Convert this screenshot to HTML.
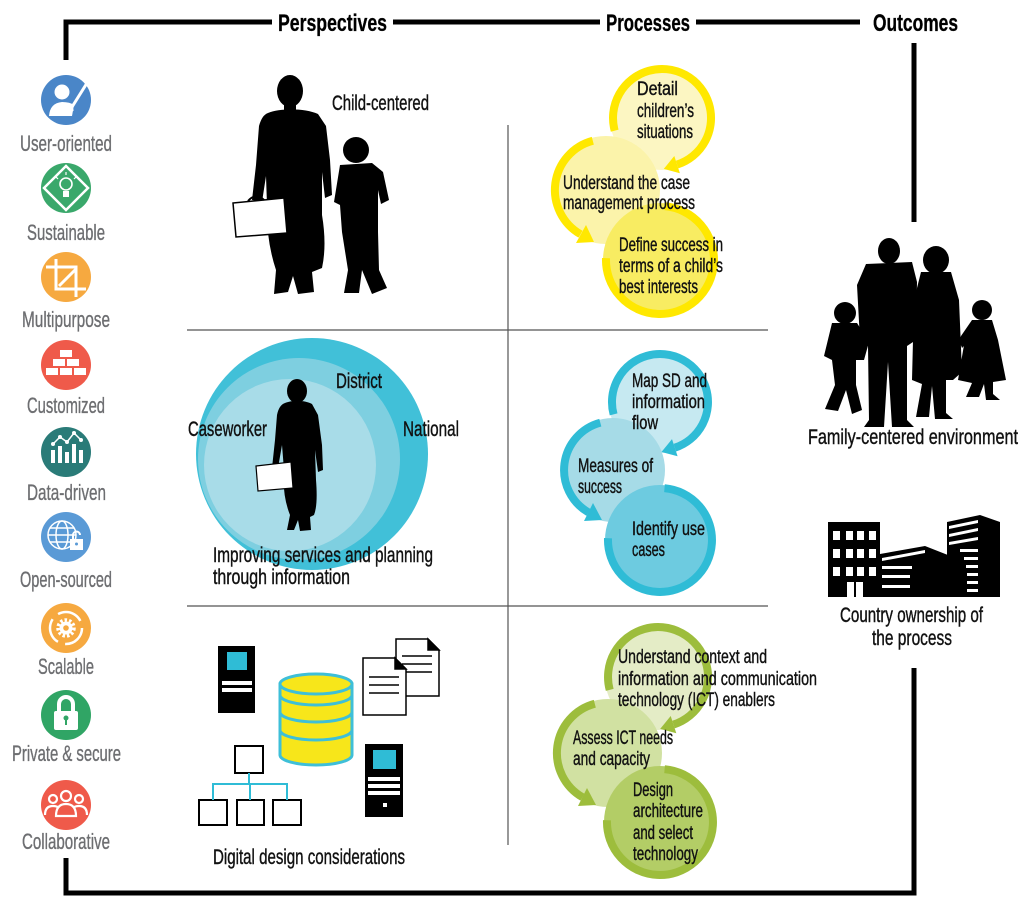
<!DOCTYPE html>
<html><head><meta charset="utf-8"><style>
html,body{margin:0;padding:0;background:#fff;}
svg{display:block;}
text{font-family:"Liberation Sans Narrow","Liberation Sans",sans-serif;}
.h{font-size:24px;font-weight:bold;fill:#000;stroke:#000;stroke-width:0.3;}
.l{font-size:22px;fill:#6d6e71;stroke:#6d6e71;stroke-width:0.35;}
.t{font-size:19px;fill:#111;stroke:#111;stroke-width:0.4;}
.p{font-size:21px;fill:#111;stroke:#111;stroke-width:0.4;}
</style></head><body>
<svg width="1024" height="907" viewBox="0 0 1024 907" xmlns="http://www.w3.org/2000/svg">
<rect width="1024" height="907" fill="#fff"/>

<!-- Frame -->
<g stroke="#000" stroke-width="5" fill="none">
<path d="M66 60 V22 H272"/>
<path d="M393 22 H600"/>
<path d="M696 22 H860"/>
<path d="M914 43 V222"/>
<path d="M914 668 V893 H66 V858"/>
</g>
<text class="h" x="278" y="31" textLength="109" lengthAdjust="spacingAndGlyphs">Perspectives</text>
<text class="h" x="606" y="31" textLength="84" lengthAdjust="spacingAndGlyphs">Processes</text>
<text class="h" x="873" y="31" textLength="85" lengthAdjust="spacingAndGlyphs">Outcomes</text>

<!-- Grid -->
<g stroke="#555" stroke-width="1.2">
<line x1="508" y1="125" x2="508" y2="845"/>
<line x1="187" y1="330" x2="768" y2="330"/>
<line x1="187" y1="606" x2="768" y2="606"/>
</g>

<!-- Left icons -->
<circle cx="66" cy="100" r="25" fill="#4a86c8"/>
<circle cx="62" cy="92" r="7.5" fill="#fff"/>
<path d="M49 116 Q50 103 62 102 Q70 102 74 105 L72 116 Z" fill="#fff"/>
<path d="M87 83 L72 107" stroke="#fff" stroke-width="3"/>
<path d="M68 106 L74 110 L68 116 Z" fill="#fff"/>

<circle cx="66" cy="188" r="25" fill="#3aa86b"/>
<polygon points="66,166 88,188 66,210 44,188" fill="none" stroke="#fff" stroke-width="2.5"/>
<circle cx="66" cy="184" r="6" fill="none" stroke="#fff" stroke-width="1.6"/>
<rect x="63" y="191" width="6" height="6" fill="#fff"/>
<g stroke="#fff" stroke-width="1.2"><line x1="66" y1="172" x2="66" y2="175"/><line x1="56" y1="177" x2="58" y2="179"/><line x1="76" y1="177" x2="74" y2="179"/></g>

<circle cx="66" cy="277" r="25" fill="#f6a940"/>
<g stroke="#fff" stroke-width="3" fill="none">
<path d="M56 259 V289 H86"/>
<path d="M46 267 H76 V297"/>
<path d="M59 286 L76 269"/>
</g>

<circle cx="66" cy="365" r="25" fill="#ef5a4a"/>
<g fill="#fff">
<rect x="60" y="350" width="12" height="7"/>
<rect x="53" y="359" width="12" height="7"/><rect x="67" y="359" width="12" height="7"/>
<rect x="46" y="368" width="12" height="7"/><rect x="60" y="368" width="12" height="7"/><rect x="74" y="368" width="12" height="7"/>
</g>

<circle cx="66" cy="452" r="25" fill="#2a7b78"/>
<g fill="#fff">
<rect x="51" y="450" width="4" height="13"/><rect x="58" y="446" width="4" height="17"/><rect x="65" y="452" width="4" height="11"/><rect x="72" y="444" width="4" height="19"/><rect x="79" y="450" width="4" height="13"/>
</g>
<polyline points="53,444 60,437 67,442 74,433 81,440" fill="none" stroke="#fff" stroke-width="1.5"/>
<g fill="#fff"><circle cx="53" cy="444" r="2"/><circle cx="60" cy="437" r="2"/><circle cx="67" cy="442" r="2"/><circle cx="74" cy="433" r="2"/><circle cx="81" cy="440" r="2"/></g>

<circle cx="66" cy="537" r="25" fill="#5a9ad6"/>
<g fill="none" stroke="#fff" stroke-width="1.5">
<circle cx="62" cy="535" r="14"/><ellipse cx="62" cy="535" rx="6" ry="14"/>
<line x1="48" y1="535" x2="76" y2="535"/><line x1="50" y1="528" x2="74" y2="528"/><line x1="50" y1="542" x2="72" y2="542"/>
</g>
<rect x="70" y="539" width="13" height="11" fill="#fff"/>
<path d="M73 539 V535 A3.5 3.5 0 0 1 80 535" fill="none" stroke="#fff" stroke-width="2"/>
<circle cx="76.5" cy="544" r="1.5" fill="#5a9ad6"/>

<circle cx="66" cy="628" r="25" fill="#f6a940"/>
<circle cx="66" cy="628" r="16" fill="none" stroke="#fff" stroke-width="2.5" stroke-dasharray="26 7.5"/>
<circle cx="66" cy="628" r="8" fill="none" stroke="#fff" stroke-width="3.5" stroke-dasharray="2.5 2"/>
<circle cx="66" cy="628" r="6.5" fill="#fff"/>
<circle cx="66" cy="628" r="2.8" fill="#f6a940"/>

<circle cx="66" cy="715" r="25" fill="#30a565"/>
<path d="M59 712 V704 A7 7 0 0 1 73 704 V712" fill="none" stroke="#fff" stroke-width="4"/>
<rect x="54" y="711" width="24" height="19" rx="2" fill="#fff"/>
<circle cx="66" cy="718" r="2.5" fill="#30a565"/><rect x="65" y="719" width="2" height="6" fill="#30a565"/>

<circle cx="66" cy="805" r="25" fill="#ef5a4a"/>
<g fill="none" stroke="#fff" stroke-width="2.2">
<circle cx="66" cy="796" r="5"/><circle cx="53" cy="799" r="4"/><circle cx="79" cy="799" r="4"/>
<path d="M56 816 Q56 804 66 804 Q76 804 76 816 Z"/>
<path d="M45 815 Q45 806 53 806 Q57 806 59 808"/>
<path d="M87 815 Q87 806 79 806 Q75 806 73 808"/>
</g>

<text class="l" x="20" y="151" textLength="92" lengthAdjust="spacingAndGlyphs">User-oriented</text>
<text class="l" x="27" y="240" textLength="78" lengthAdjust="spacingAndGlyphs">Sustainable</text>
<text class="l" x="22" y="327" textLength="88" lengthAdjust="spacingAndGlyphs">Multipurpose</text>
<text class="l" x="27" y="413" textLength="78" lengthAdjust="spacingAndGlyphs">Customized</text>
<text class="l" x="27" y="500" textLength="79" lengthAdjust="spacingAndGlyphs">Data-driven</text>
<text class="l" x="20" y="587" textLength="92" lengthAdjust="spacingAndGlyphs">Open-sourced</text>
<text class="l" x="38" y="674" textLength="56" lengthAdjust="spacingAndGlyphs">Scalable</text>
<text class="l" x="12" y="761" textLength="109" lengthAdjust="spacingAndGlyphs">Private &amp; secure</text>
<text class="l" x="22" y="849" textLength="88" lengthAdjust="spacingAndGlyphs">Collaborative</text>

<!-- Child-centered silhouettes -->
<g fill="#000">
<ellipse cx="290" cy="91" rx="13" ry="16"/>
<rect x="284" y="102" width="12" height="12"/>
<path d="M268 113 C280 108 305 108 318 114 L326 126 L330 160 L332 195 L325 198 L322 172 L322 215 Q327 245 322 268 L312 272 L314 292 L298 294 L293 276 L288 292 L274 294 L276 270 Q266 240 267 205 L266 176 L262 202 L252 200 L256 165 L259 126 Q262 115 268 113 Z"/>
<circle cx="356" cy="150" r="13"/>
<path d="M340 165 L372 163 L383 172 L389 200 L381 204 L378 190 L378 232 L379 270 L387 288 L372 294 L362 270 L359 293 L344 293 L348 270 L342 232 L340 205 L334 202 Z"/>
</g>
<polygon points="233,203 284,198 287,233 236,237" fill="#fff" stroke="#000" stroke-width="1.5"/>
<path d="M248 201 Q256 192 264 200" fill="none" stroke="#000" stroke-width="2"/>
<text class="p" x="332" y="110" textLength="97" lengthAdjust="spacingAndGlyphs">Child-centered</text>

<!-- Caseworker circles -->
<circle cx="312" cy="454" r="116" fill="#41c0d8"/>
<circle cx="299" cy="459" r="101" fill="#7ecfe0"/>
<circle cx="290" cy="465" r="86" fill="#a8dce8"/>
<g fill="#000">
<ellipse cx="297" cy="391" rx="10" ry="12"/>
<path d="M285 403 C292 400 305 400 312 404 L318 415 L322 445 L323 470 L318 472 L315 450 L316 480 Q318 505 314 515 L310 517 L311 530 L300 531 L298 520 L294 530 L287 530 L290 515 Q282 495 284 470 L282 445 L278 468 L272 468 L275 440 L277 415 Q279 405 285 403 Z"/>
</g>
<polygon points="256,466 291,462 293,488 258,491" fill="#fff" stroke="#000" stroke-width="1.2"/>
<text class="p" x="336" y="388" textLength="46" lengthAdjust="spacingAndGlyphs">District</text>
<text class="p" x="188" y="436" textLength="79" lengthAdjust="spacingAndGlyphs">Caseworker</text>
<text class="p" x="403" y="436" textLength="56" lengthAdjust="spacingAndGlyphs">National</text>
<text class="p" x="213" y="562" textLength="220" lengthAdjust="spacingAndGlyphs">Improving services and planning</text>
<text class="p" x="213" y="584" textLength="137" lengthAdjust="spacingAndGlyphs">through information</text>

<!-- Digital design -->
<rect x="218" y="646" width="37" height="67" fill="#000"/>
<rect x="227" y="652" width="20" height="18" fill="#2fbcd6"/>
<rect x="222" y="681" width="30" height="4" fill="#fff"/>
<rect x="222" y="688" width="30" height="4" fill="#fff"/>

<g fill="#f7e61a" stroke="#3ebfd8" stroke-width="3">
<path d="M280 684 V755 A36 10 0 0 0 352 755 V684 Z"/>
<ellipse cx="316" cy="684" rx="36" ry="10"/>
<path d="M280 695 A36 10 0 0 0 352 695" fill="none"/>
<path d="M280 712 A36 10 0 0 0 352 712" fill="none"/>
<path d="M280 730 A36 10 0 0 0 352 730" fill="none"/>
</g>

<g stroke="#000" stroke-width="1.5">
<polygon points="396,639 428,639 439,650 439,696 396,696" fill="#fff"/>
<polygon points="428,639 428,650 439,650" fill="#000"/>
<line x1="402" y1="656" x2="432" y2="656"/><line x1="402" y1="664" x2="432" y2="664"/><line x1="402" y1="672" x2="432" y2="672"/>
<polygon points="363,658 395,658 406,669 406,715 363,715" fill="#fff"/>
<polygon points="395,658 395,669 406,669" fill="#000"/>
<line x1="369" y1="677" x2="399" y2="677"/><line x1="369" y1="685" x2="399" y2="685"/><line x1="369" y1="693" x2="399" y2="693"/>
</g>

<g fill="none" stroke="#000" stroke-width="2">
<rect x="235" y="746" width="28" height="27"/>
<rect x="199" y="800" width="28" height="25"/>
<rect x="237" y="800" width="27" height="25"/>
<rect x="273" y="800" width="28" height="25"/>
</g>
<path d="M249 773 V784 M213 800 V784 H287 V800 M250 784 V800" fill="none" stroke="#2fbcd6" stroke-width="2"/>

<rect x="365" y="744" width="38" height="73" fill="#000"/>
<rect x="373" y="750" width="23" height="19" fill="#2fbcd6"/>
<rect x="368" y="777" width="32" height="4" fill="#fff"/>
<rect x="368" y="784" width="32" height="4" fill="#fff"/>
<rect x="368" y="791" width="32" height="4" fill="#fff"/>
<rect x="383" y="803" width="4" height="4" fill="#fff"/>
<text class="p" x="213" y="864" textLength="192" lengthAdjust="spacingAndGlyphs">Digital design considerations</text>

<!-- Yellow process circles -->
<circle cx="662" cy="118" r="52" fill="#fcf6c2"/>
<circle cx="606" cy="190" r="54" fill="#fbf3aa"/>
<circle cx="660" cy="260" r="57" fill="#f8ec62"/>
<g fill="none" stroke="#ffe800" stroke-width="8">
<path d="M614.7 130.7 A49 49 0 1 1 677.1 164.6"/>
<path d="M592.8 140.7 A51 51 0 0 0 580.5 234.2"/>
<path d="M664.7 206.2 A54 54 0 1 1 606 258.1"/>
</g>
<g fill="#ffe800">
<polygon points="663.8,168.9 679.9,173.2 674.3,156.0"/>
<polygon points="594,242 576,243 586,225"/>
</g>
<text class="t" x="637" y="95" textLength="41" lengthAdjust="spacingAndGlyphs">Detail</text>
<text class="t" x="637" y="117" textLength="57" lengthAdjust="spacingAndGlyphs">children’s</text>
<text class="t" x="637" y="138" textLength="56" lengthAdjust="spacingAndGlyphs">situations</text>
<text class="t" x="563" y="189" textLength="127" lengthAdjust="spacingAndGlyphs">Understand the case</text>
<text class="t" x="563" y="209" textLength="132" lengthAdjust="spacingAndGlyphs">management process</text>
<text class="t" x="619" y="251" textLength="104" lengthAdjust="spacingAndGlyphs">Define success in</text>
<text class="t" x="619" y="272" textLength="104" lengthAdjust="spacingAndGlyphs">terms of a child’s</text>
<text class="t" x="619" y="293" textLength="79" lengthAdjust="spacingAndGlyphs">best interests</text>

<!-- Blue process circles -->
<circle cx="660" cy="402" r="51" fill="#c6e9f1"/>
<circle cx="613" cy="470" r="52" fill="#a6dbe7"/>
<circle cx="660" cy="540" r="55" fill="#6dcbe0"/>
<g fill="none" stroke="#2fbcd6" stroke-width="8">
<path d="M613.6 414.4 A48 48 0 1 1 674.8 447.7"/>
<path d="M600.3 422.7 A49 49 0 0 0 588.5 512.4"/>
<path d="M664.5 488.2 A52 52 0 1 1 608 538.2"/>
</g>
<g fill="#2fbcd6">
<polygon points="661.5,452 677.6,456.3 672,439.1"/>
<polygon points="602,520 584,521 593,503"/>
</g>
<text class="t" x="632" y="387" textLength="75" lengthAdjust="spacingAndGlyphs">Map SD and</text>
<text class="t" x="632" y="408" textLength="73" lengthAdjust="spacingAndGlyphs">information</text>
<text class="t" x="632" y="429" textLength="26" lengthAdjust="spacingAndGlyphs">flow</text>
<text class="t" x="578" y="472" textLength="75" lengthAdjust="spacingAndGlyphs">Measures of</text>
<text class="t" x="578" y="493" textLength="44" lengthAdjust="spacingAndGlyphs">success</text>
<text class="t" x="632" y="535" textLength="73" lengthAdjust="spacingAndGlyphs">Identify use</text>
<text class="t" x="632" y="556" textLength="33" lengthAdjust="spacingAndGlyphs">cases</text>

<!-- Green process circles -->
<circle cx="658" cy="677" r="53" fill="#e4ecc6"/>
<circle cx="608" cy="753" r="54" fill="#d1e1a2"/>
<circle cx="660" cy="822" r="56" fill="#b3cd66"/>
<g fill="none" stroke="#9dbd3c" stroke-width="8">
<path d="M609.7 689.9 A50 50 0 1 1 673.5 724.6"/>
<path d="M594.8 703.7 A51 51 0 0 0 582.5 797.2"/>
<path d="M664.6 769.2 A53 53 0 1 1 607 820.2"/>
</g>
<g fill="#9dbd3c">
<polygon points="660.2,728.9 676.3,733.2 670.7,716"/>
<polygon points="596,805 578,806 587,788"/>
</g>
<text class="t" x="618" y="663" textLength="149" lengthAdjust="spacingAndGlyphs">Understand context and</text>
<text class="t" x="618" y="685" textLength="199" lengthAdjust="spacingAndGlyphs">information and communication</text>
<text class="t" x="618" y="706" textLength="157" lengthAdjust="spacingAndGlyphs">technology (ICT) enablers</text>
<text class="t" x="573" y="744" textLength="100" lengthAdjust="spacingAndGlyphs">Assess ICT needs</text>
<text class="t" x="573" y="765" textLength="77" lengthAdjust="spacingAndGlyphs">and capacity</text>
<text class="t" x="633" y="796" textLength="40" lengthAdjust="spacingAndGlyphs">Design</text>
<text class="t" x="633" y="817" textLength="70" lengthAdjust="spacingAndGlyphs">architecture</text>
<text class="t" x="633" y="839" textLength="60" lengthAdjust="spacingAndGlyphs">and select</text>
<text class="t" x="633" y="860" textLength="65" lengthAdjust="spacingAndGlyphs">technology</text>

<!-- Family silhouettes -->
<g fill="#000">
<ellipse cx="889" cy="251" rx="11" ry="13"/>
<path d="M866 264 L912 262 L917 282 L916 340 L907 346 L907 420 L914 427 L892 427 L888 362 L884 427 L864 427 L869 420 L868 346 L860 340 L857 285 Z"/>
<ellipse cx="936" cy="260" rx="13" ry="14"/>
<path d="M921 272 L951 272 L959 300 L962 372 L953 380 L946 380 L946 413 L953 419 L935 419 L932 386 L929 417 L916 417 L922 384 L912 380 L914 300 Z"/>
<path d="M959 340 L972 330 L974 336 L962 348 Z"/>
<circle cx="845" cy="313" r="11"/>
<path d="M832 323 L857 323 L869 342 L864 360 L856 360 L856 385 L862 410 L852 414 L846 390 L838 411 L825 409 L835 385 L832 360 L824 356 Z"/>
<circle cx="982" cy="310" r="10"/>
<path d="M972 320 L992 320 L998 340 L1006 380 L993 382 L993 394 L1000 400 L986 400 L984 384 L979 397 L966 397 L972 383 L958 380 L964 345 L957 346 L961 336 Z"/>
</g>
<text class="p" x="808" y="444" textLength="210" lengthAdjust="spacingAndGlyphs">Family-centered environment</text>

<!-- Buildings -->
<rect x="828" y="522" width="52" height="75" fill="#000"/>
<g fill="#fff">
<rect x="833" y="531" width="7" height="9"/><rect x="846" y="531" width="7" height="9"/><rect x="857" y="531" width="7" height="9"/><rect x="869" y="531" width="7" height="9"/>
<rect x="833" y="549" width="7" height="9"/><rect x="846" y="549" width="7" height="9"/><rect x="857" y="549" width="7" height="9"/><rect x="869" y="549" width="7" height="9"/>
<rect x="833" y="567" width="7" height="9"/><rect x="846" y="567" width="7" height="9"/><rect x="857" y="567" width="7" height="9"/><rect x="869" y="567" width="7" height="9"/>
<rect x="847" y="582" width="16" height="15"/>
</g>
<rect x="854" y="582" width="2" height="15" fill="#000"/>
<polygon points="880,554 925,546 958,559 958,597 880,597" fill="#000"/>
<g fill="#fff">
<polygon points="882,558 925,550 925,553 882,561"/>
<rect x="882" y="566" width="30" height="3"/>
<rect x="882" y="575" width="28" height="3"/>
<rect x="882" y="585" width="28" height="3"/>
</g>
<polygon points="947,522 980,515 1000,522 1000,597 947,597" fill="#000"/>
<g fill="#fff">
<polygon points="949,526 978,520 978,523 949,529"/>
<polygon points="949,534 978,528 978,531 949,537"/>
<polygon points="949,542 978,537 978,540 949,545"/>
<rect x="960" y="549" width="18" height="3"/>
<rect x="964" y="557" width="14" height="3"/>
<rect x="966" y="565" width="12" height="3"/>
<rect x="967" y="573" width="11" height="3"/>
<rect x="967" y="581" width="11" height="3"/>
<rect x="967" y="589" width="11" height="3"/>
</g>
<text class="p" x="840" y="622" textLength="143" lengthAdjust="spacingAndGlyphs">Country ownership of</text>
<text class="p" x="872" y="645" textLength="80" lengthAdjust="spacingAndGlyphs">the process</text>
</svg>
</body></html>
